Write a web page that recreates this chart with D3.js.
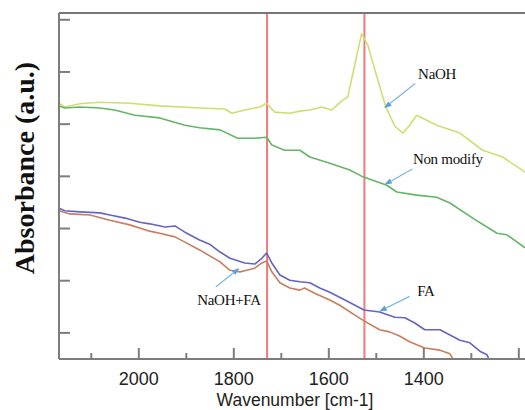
<!DOCTYPE html>
<meta charset="utf-8">
<style>
    body { margin: 0; background: #fff; }
    .tick-label { font-family: "Liberation Sans", Arial, sans-serif; font-size: 18px; fill: #222; }
    .note { font-family: "Liberation Serif", "Times New Roman", serif; font-size: 15px; fill: #111; }
</style>
<script src="https://cdn.jsdelivr.net/npm/d3@7"></script>
<svg width="525" height="410"></svg>
<script>

    // wavenumber (cm-1) and absorbance (a.u., offset)
    var naohW = [2168, 2156, 2124, 2082, 2019, 1956, 1872, 1819, 1804, 1777, 1745, 1731, 1714, 1682, 1661, 1640, 1615, 1594, 1571, 1560, 1552, 1541, 1531, 1518, 1503, 1480, 1461, 1444, 1430, 1415, 1373, 1324, 1276, 1234, 1187];
    var naohA = [4.90, 4.83, 4.89, 4.92, 4.90, 4.85, 4.81, 4.79, 4.71, 4.77, 4.83, 4.90, 4.73, 4.71, 4.75, 4.77, 4.83, 4.77, 4.96, 5.02, 5.36, 5.82, 6.23, 6.02, 5.54, 4.83, 4.46, 4.33, 4.48, 4.67, 4.48, 4.33, 4.00, 3.87, 3.58];

    var nonW = [2168, 2156, 2124, 2082, 2051, 2008, 1956, 1903, 1872, 1829, 1792, 1756, 1731, 1720, 1693, 1661, 1640, 1598, 1556, 1528, 1478, 1457, 1415, 1373, 1345, 1297, 1246, 1225, 1187];
    var nonA = [4.85, 4.81, 4.83, 4.81, 4.77, 4.67, 4.62, 4.48, 4.43, 4.39, 4.23, 4.23, 4.25, 4.10, 4.00, 4.00, 3.87, 3.75, 3.62, 3.49, 3.33, 3.20, 3.14, 3.10, 2.99, 2.70, 2.41, 2.38, 2.13];

    var faW = [2168, 2156, 2124, 2082, 2061, 2029, 1998, 1977, 1945, 1924, 1903, 1872, 1851, 1829, 1808, 1777, 1756, 1741, 1731, 1720, 1703, 1682, 1661, 1640, 1619, 1598, 1566, 1526, 1493, 1461, 1440, 1419, 1398, 1366, 1345, 1324, 1303, 1282, 1267, 1263];
    var faA = [2.89, 2.84, 2.82, 2.80, 2.76, 2.70, 2.62, 2.59, 2.53, 2.55, 2.43, 2.28, 2.20, 2.05, 1.93, 1.84, 1.82, 1.93, 2.03, 1.84, 1.61, 1.51, 1.48, 1.46, 1.36, 1.28, 1.13, 0.94, 0.90, 0.80, 0.79, 0.69, 0.56, 0.56, 0.46, 0.36, 0.31, 0.15, 0.08, 0.0];

    var naohFaW = [2168, 2145, 2103, 2061, 2019, 1977, 1956, 1924, 1903, 1872, 1829, 1808, 1787, 1773, 1756, 1741, 1731, 1720, 1703, 1682, 1661, 1651, 1630, 1598, 1577, 1545, 1526, 1493, 1472, 1451, 1430, 1398, 1366, 1345, 1339];
    var naohFaA = [2.84, 2.78, 2.76, 2.66, 2.57, 2.45, 2.41, 2.34, 2.24, 2.09, 1.86, 1.70, 1.67, 1.70, 1.74, 1.84, 1.88, 1.67, 1.46, 1.36, 1.32, 1.36, 1.26, 1.13, 1.03, 0.84, 0.73, 0.56, 0.52, 0.44, 0.33, 0.21, 0.17, 0.10, 0.0];

    var xMajor = [2000, 1800, 1600, 1400, 1200];
    var xMinor = [2100, 1900, 1700, 1500, 1300];
    var yTicks = [0.5, 1.5, 2.5, 3.5, 4.5, 5.5, 6.5];
    var peaks = [1730, 1525];

    var series = [
        {name: "NaOH", w: naohW, a: naohA, color: "#cde06f"},
        {name: "Non modify", w: nonW, a: nonA, color: "#66b566"},
        {name: "FA", w: faW, a: faA, color: "#6464c4"},
        {name: "NaOH+FA", w: naohFaW, a: naohFaA, color: "#c97c5e"}
    ];

    // label position and arrow (from -> to), in data units
    var notes = [
        {text: "NaOH", lw: 1412, la: 5.37, fw: 1418, fa: 5.28, tw: 1482, ta: 4.82},
        {text: "Non modify", lw: 1423, la: 3.73, fw: 1424, fa: 3.64, tw: 1481, ta: 3.35},
        {text: "NaOH+FA", lw: 1877, la: 1.03, fw: 1838, fa: 1.38, tw: 1790, ta: 1.73},
        {text: "FA", lw: 1414, la: 1.21, fw: 1430, fa: 1.20, tw: 1492, ta: 0.92}
    ];

    var svg = d3.select("svg"),
        margin = {top: 13, right: 0, bottom: 51, left: 59},
        width = +svg.attr("width") - margin.left - margin.right,
        height = +svg.attr("height") - margin.top - margin.bottom,
        g = svg.append("g").attr("transform", "translate(" + margin.left + "," + margin.top + ")");

    var x = d3.scaleLinear().domain([2168, 1187]).range([0, width]);
    var y = d3.scaleLinear().domain([0, 6.63]).range([height, 0]);

    svg.append("defs").append("clipPath").attr("id", "plot")
        .append("rect").attr("width", width).attr("height", height);

    svg.select("defs").append("marker")
        .attr("id", "head")
        .attr("viewBox", "0 0 10 10")
        .attr("refX", 9).attr("refY", 5)
        .attr("markerWidth", 6).attr("markerHeight", 6)
        .attr("orient", "auto")
        .append("path").attr("d", "M0,1L10,5L0,9z").attr("fill", "#5b9fdc");

    // red guide lines
    g.selectAll(".peak")
        .data(peaks)
        .enter().append("line")
        .attr("x1", function (d) { return x(d); })
        .attr("x2", function (d) { return x(d); })
        .attr("y1", 0).attr("y2", height)
        .attr("stroke", "#f27a7c")
        .attr("stroke-width", 2);

    var line = d3.line()
        .x(function (d) { return x(d[0]); })
        .y(function (d) { return y(d[1]); });

    g.append("g").attr("clip-path", "url(#plot)")
        .selectAll("path")
        .data(series)
        .enter().append("path")
        .attr("d", function (s) { return line(d3.zip(s.w, s.a)); })
        .attr("fill", "none")
        .attr("stroke", function (s) { return s.color; })
        .attr("stroke-width", 1.6)
        .attr("stroke-linejoin", "round");

    // frame: left, top, bottom
    var axisColor = "#7d7d7d";
    g.append("line").attr("x1", 0).attr("x2", 0).attr("y1", 0).attr("y2", height)
        .attr("stroke", axisColor).attr("stroke-width", 2);
    g.append("line").attr("x1", 0).attr("x2", width).attr("y1", 0).attr("y2", 0)
        .attr("stroke", "#777").attr("stroke-width", 2);
    g.append("line").attr("x1", 0).attr("x2", width).attr("y1", height).attr("y2", height)
        .attr("stroke", axisColor).attr("stroke-width", 2);

    // y ticks (inside, no labels)
    g.selectAll(".ytick")
        .data(yTicks)
        .enter().append("line")
        .attr("x1", 0).attr("x2", 11)
        .attr("y1", function (d) { return y(d); })
        .attr("y2", function (d) { return y(d); })
        .attr("stroke", axisColor).attr("stroke-width", 2);

    // x ticks, pointing up
    g.selectAll(".xmajor")
        .data(xMajor)
        .enter().append("line")
        .attr("x1", function (d) { return x(d); })
        .attr("x2", function (d) { return x(d); })
        .attr("y1", height).attr("y2", height - 11)
        .attr("stroke", axisColor).attr("stroke-width", 2);

    g.selectAll(".xminor")
        .data(xMinor)
        .enter().append("line")
        .attr("x1", function (d) { return x(d); })
        .attr("x2", function (d) { return x(d); })
        .attr("y1", height).attr("y2", height - 6)
        .attr("stroke", axisColor).attr("stroke-width", 2);

    g.selectAll(".tick-label")
        .data(xMajor.slice(0, 4))
        .enter().append("text")
        .attr("class", "tick-label")
        .attr("x", function (d) { return x(d); })
        .attr("y", height + 26)
        .attr("text-anchor", "middle")
        .text(function (d) { return d; });

    svg.append("text")
        .attr("x", 295).attr("y", 406)
        .attr("text-anchor", "middle")
        .attr("font-family", "Liberation Sans, Arial, sans-serif")
        .attr("font-size", "17.5px")
        .attr("fill", "#222")
        .text("Wavenumber [cm-1]");

    svg.append("text")
        .attr("transform", "translate(34,168) rotate(-90)")
        .attr("text-anchor", "middle")
        .attr("font-family", "Liberation Serif, Times New Roman, serif")
        .attr("font-weight", "bold")
        .attr("font-size", "28px")
        .attr("fill", "#111")
        .text("Absorbance (a.u.)");

    // annotations
    g.selectAll(".arrow")
        .data(notes)
        .enter().append("line")
        .attr("x1", function (d) { return x(d.fw); })
        .attr("y1", function (d) { return y(d.fa); })
        .attr("x2", function (d) { return x(d.tw); })
        .attr("y2", function (d) { return y(d.ta); })
        .attr("stroke", "#7ab6e6")
        .attr("stroke-width", 1.2)
        .attr("marker-end", "url(#head)");

    g.selectAll(".note")
        .data(notes)
        .enter().append("text")
        .attr("class", "note")
        .attr("x", function (d) { return x(d.lw); })
        .attr("y", function (d) { return y(d.la); })
        .attr("letter-spacing", "-0.3px")
        .text(function (d) { return d.text; });

</script>
